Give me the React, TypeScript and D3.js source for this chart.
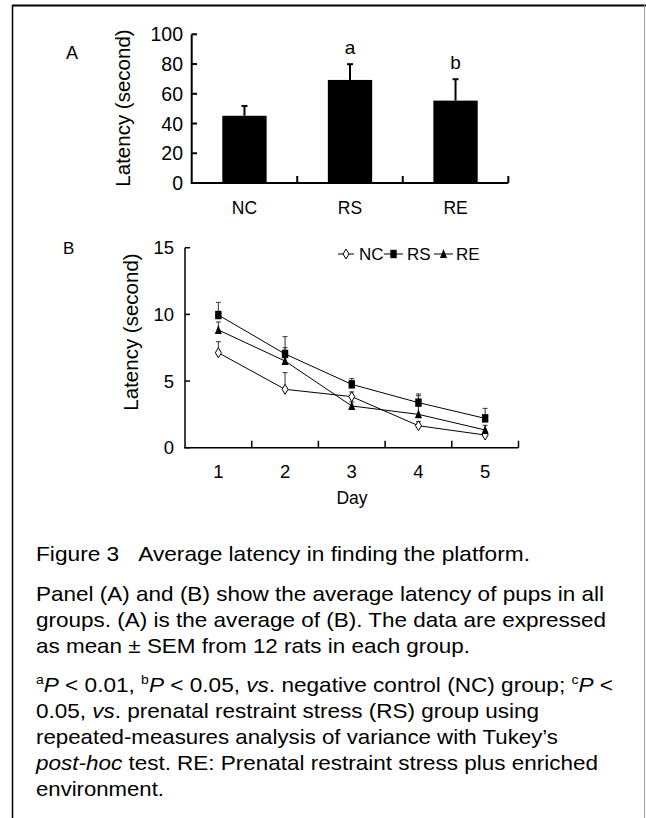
import React from "react";
import * as d3 from "d3";

// Panel A data
const groups = ["NC", "RS", "RE"];
const meanLatency = [45.2, 69.3, 55.4];
const meanErr = [6.6, 10.6, 14.4];
const sigLabels = ["", "a", "b"];
const yTicksA = [0, 20, 40, 60, 80, 100];

// Panel B data
const days = [1, 2, 3, 4, 5];
const ncValues = [7.12, 4.38, 3.83, 1.65, 0.95];
const ncErr = [0.83, 1.25, 0.35, 0.3, 0.25];
const rsValues = [9.95, 7.03, 4.75, 3.38, 2.2];
const rsErr = [0.95, 1.3, 0.43, 0.65, 0.75];
const reValues = [8.83, 6.5, 3.13, 2.5, 1.33];
const reErr = [0.6, 1.0, 0.3, 1.4, 0.35];
const yTicksB = [0, 5, 10, 15];

const FONT = "Liberation Sans, Arial, sans-serif";

export default function App() {
  // Panel A scales
  const xA = d3.scaleBand<string>().domain(groups).range([191.7, 508.3]).paddingInner(0.58).paddingOuter(0.29);
  const yA = d3.scaleLinear().domain([0, 100]).range([183, 34.3]);
  const xBound = d3.scaleBand<string>().domain(groups).range([191.7, 508.3]);

  // Panel B scales
  const xB = d3.scaleLinear().domain([0.5, 5.5]).range([185, 518.5]);
  const yB = d3.scaleLinear().domain([0, 15]).range([447.7, 247.7]);
  const line = d3.line<number>().x((_, i) => xB(days[i])).y((v) => yB(v));

  const series = [
    { name: "NC", vals: ncValues, err: ncErr, marker: "diamond" },
    { name: "RS", vals: rsValues, err: rsErr, marker: "square" },
    { name: "RE", vals: reValues, err: reErr, marker: "triangle" },
  ];

  const drawMarker = (type: string, cx: number, cy: number, key: string) => {
    if (type === "diamond")
      return <path key={key} d={`M${cx},${cy - 5}L${cx + 3},${cy}L${cx},${cy + 5}L${cx - 3},${cy}Z`} fill="#fff" stroke="#000" strokeWidth={1} />;
    if (type === "square")
      return <rect key={key} x={cx - 3.2} y={cy - 4.2} width={6.4} height={8.4} fill="#000" />;
    return <path key={key} d={`M${cx},${cy - 5}L${cx + 3.5},${cy + 4}L${cx - 3.5},${cy + 4}Z`} fill="#000" />;
  };

  const legendItems = [
    { name: "NC", marker: "diamond", x0: 338, x1: 354, tx: 359 },
    { name: "RS", marker: "square", x0: 384, x1: 403, tx: 407 },
    { name: "RE", marker: "triangle", x0: 434, x1: 453, tx: 456 },
  ];

  const capFs = 21;
  const lines = [
    { y: 561, w: 494 },
    { y: 601, w: 568 },
    { y: 627, w: 570 },
    { y: 653, w: 434 },
    { y: 692, w: 577 },
    { y: 718, w: 503 },
    { y: 744, w: 522 },
    { y: 770, w: 562 },
    { y: 796, w: 128 },
  ];

  return (
    <svg width={646} height={818} style={{ position: "absolute", left: 0, top: 0, background: "#fff" }} fontFamily={FONT}>
      {/* frame */}
      <line x1={12} y1={5.5} x2={646} y2={5.5} stroke="#000" strokeWidth={2} />
      <line x1={12.5} y1={5} x2={12.5} y2={818} stroke="#000" strokeWidth={1.5} />
      <line x1={644.5} y1={5} x2={644.5} y2={818} stroke="#999" strokeWidth={1} />

      {/* Panel A */}
      <text x={66} y={59} fontSize={18}>A</text>
      {groups.map((g, i) => {
        const x = xA(g)!;
        const w = xA.bandwidth();
        const cx = x + w / 2;
        const top = yA(meanLatency[i]);
        const et = yA(meanLatency[i] + meanErr[i]);
        return (
          <g key={g}>
            <rect x={x} y={top} width={w} height={yA(0) - top} fill="#000" />
            <line x1={cx} y1={top} x2={cx} y2={et} stroke="#000" strokeWidth={2} />
            <line x1={cx - 3} y1={et} x2={cx + 3} y2={et} stroke="#000" strokeWidth={2} />
            {sigLabels[i] && (
              <text x={cx} y={et - 10} textAnchor="middle" fontSize={19}>{sigLabels[i]}</text>
            )}
            <text x={cx} y={214} textAnchor="middle" fontSize={17.5}>{g}</text>
          </g>
        );
      })}
      <line x1={191.7} y1={yA(100)} x2={191.7} y2={yA(0)} stroke="#000" strokeWidth={2} />
      <line x1={190.7} y1={yA(0)} x2={508.3} y2={yA(0)} stroke="#000" strokeWidth={2} />
      {yTicksA.map((t) => (
        <g key={t}>
          <line x1={191.7} x2={197} y1={yA(t)} y2={yA(t)} stroke="#000" strokeWidth={2} />
          <text x={183} y={yA(t) + 7} textAnchor="end" fontSize={19.5}>{t}</text>
        </g>
      ))}
      {groups.map((g) => {
        const xr = xBound(g)! + xBound.bandwidth();
        return <line key={"tb" + g} x1={xr} x2={xr} y1={yA(0)} y2={yA(0) - 7} stroke="#000" strokeWidth={2} />;
      })}
      <text transform={`translate(130,108) rotate(-90)`} textAnchor="middle" fontSize={20.5}>Latency (second)</text>

      {/* Panel B */}
      <text x={63} y={254} fontSize={17}>B</text>
      {series.map((s) => (
        <g key={s.name}>
          {s.vals.map((v, i) => {
            const cx = xB(days[i]);
            const et = yB(v + s.err[i]);
            return (
              <g key={i}>
                <line x1={cx} x2={cx} y1={yB(v)} y2={et} stroke="#333" strokeWidth={1} />
                <line x1={cx - 2.5} x2={cx + 2.5} y1={et} y2={et} stroke="#333" strokeWidth={1} />
              </g>
            );
          })}
        </g>
      ))}
      {series.map((s) => (
        <g key={"l" + s.name}>
          <path d={line(s.vals)!} fill="none" stroke="#000" strokeWidth={1} />
          {s.vals.map((v, i) => drawMarker(s.marker, xB(days[i]), yB(v), s.name + i))}
        </g>
      ))}
      <line x1={185} y1={yB(15)} x2={185} y2={yB(0)} stroke="#000" strokeWidth={1.5} />
      <line x1={184} y1={yB(0)} x2={518.5} y2={yB(0)} stroke="#000" strokeWidth={1.5} />
      {yTicksB.map((t) => (
        <g key={t}>
          <line x1={185} x2={190} y1={yB(t)} y2={yB(t)} stroke="#000" strokeWidth={1.5} />
          <text x={174} y={yB(t) + 6.5} textAnchor="end" fontSize={18.5}>{t}</text>
        </g>
      ))}
      {[1.5, 2.5, 3.5, 4.5, 5.5].map((t) => (
        <line key={t} x1={xB(t)} x2={xB(t)} y1={yB(0)} y2={yB(0) - 7} stroke="#000" strokeWidth={1.5} />
      ))}
      {days.map((d) => (
        <text key={d} x={xB(d)} y={478} textAnchor="middle" fontSize={18.5}>{d}</text>
      ))}
      <text x={352} y={504} textAnchor="middle" fontSize={17.5}>Day</text>
      <text transform={`translate(138,332) rotate(-90)`} textAnchor="middle" fontSize={20.5}>Latency (second)</text>

      {/* legend */}
      {legendItems.map((l) => (
        <g key={l.name}>
          <line x1={l.x0} x2={l.x1} y1={254} y2={254} stroke="#000" strokeWidth={1} />
          {drawMarker(l.marker, (l.x0 + l.x1) / 2, 254, "lg" + l.name)}
          <text x={l.tx} y={260} fontSize={17}>{l.name}</text>
        </g>
      ))}

      {/* caption */}
      <g fontSize={capFs}>
        <text x={36} y={lines[0].y} textLength={lines[0].w} lengthAdjust="spacingAndGlyphs">Figure 3{"\u00A0\u00A0\u00A0"}Average latency in finding the platform.</text>
        <text x={36} y={lines[1].y} textLength={lines[1].w} lengthAdjust="spacingAndGlyphs">Panel (A) and (B) show the average latency of pups in all</text>
        <text x={36} y={lines[2].y} textLength={lines[2].w} lengthAdjust="spacingAndGlyphs">groups. (A) is the average of (B). The data are expressed</text>
        <text x={36} y={lines[3].y} textLength={lines[3].w} lengthAdjust="spacingAndGlyphs">as mean ± SEM from 12 rats in each group.</text>
        <text x={36} y={lines[4].y} textLength={lines[4].w} lengthAdjust="spacingAndGlyphs">
          <tspan fontSize={13} dy={-8}>a</tspan>
          <tspan fontStyle="italic" dy={8}>P</tspan>
          <tspan> &lt; 0.01, </tspan>
          <tspan fontSize={13} dy={-8}>b</tspan>
          <tspan fontStyle="italic" dy={8}>P</tspan>
          <tspan> &lt; 0.05, </tspan>
          <tspan fontStyle="italic">vs</tspan>
          <tspan>. negative control (NC) group; </tspan>
          <tspan fontSize={13} dy={-8}>c</tspan>
          <tspan fontStyle="italic" dy={8}>P</tspan>
          <tspan> &lt;</tspan>
        </text>
        <text x={36} y={lines[5].y} textLength={lines[5].w} lengthAdjust="spacingAndGlyphs">
          <tspan>0.05, </tspan>
          <tspan fontStyle="italic">vs</tspan>
          <tspan>. prenatal restraint stress (RS) group using</tspan>
        </text>
        <text x={36} y={lines[6].y} textLength={lines[6].w} lengthAdjust="spacingAndGlyphs">repeated-measures analysis of variance with Tukey’s</text>
        <text x={36} y={lines[7].y} textLength={lines[7].w} lengthAdjust="spacingAndGlyphs">
          <tspan fontStyle="italic">post-hoc</tspan>
          <tspan> test. RE: Prenatal restraint stress plus enriched</tspan>
        </text>
        <text x={36} y={lines[8].y} textLength={lines[8].w} lengthAdjust="spacingAndGlyphs">environment.</text>
      </g>
    </svg>
  );
}
